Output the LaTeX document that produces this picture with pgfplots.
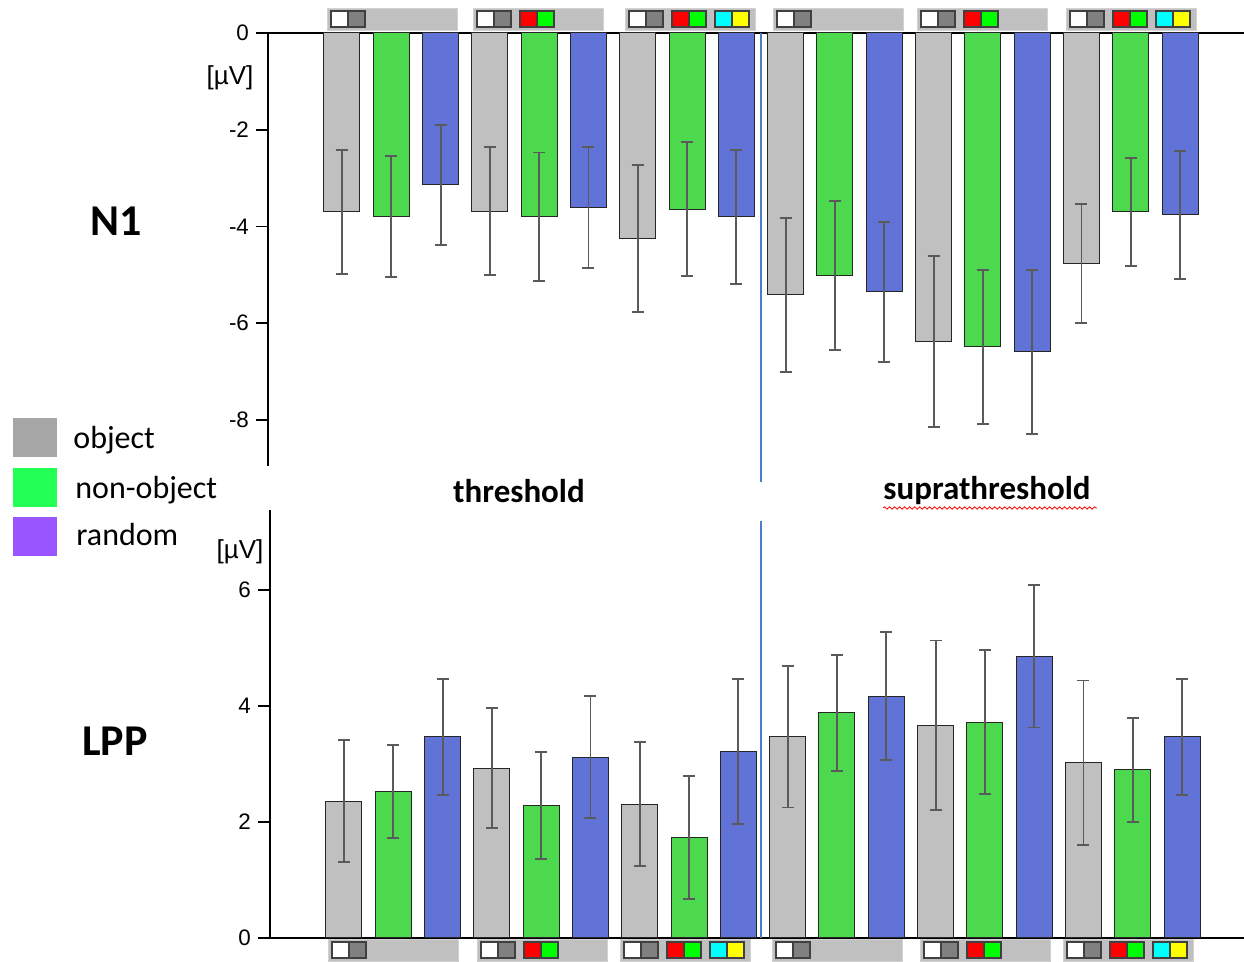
\documentclass[border=0pt]{standalone}
\usepackage{fontspec}
\setmainfont{Carlito}
\newfontfamily\arialf{Liberation Sans}
\usepackage{pgfplots}
\pgfplotsset{compat=1.18}
\usetikzlibrary{decorations.pathmorphing}

\definecolor{barGray}{HTML}{C0C0C0}
\definecolor{barGreen}{HTML}{4DD94D}
\definecolor{barBlue}{HTML}{6173D6}
\definecolor{errCol}{HTML}{5A5A5A}
\definecolor{legGray}{HTML}{A6A6A6}
\definecolor{legGreen}{HTML}{22FF55}
\definecolor{legPurple}{HTML}{9955FF}
\definecolor{sepBlue}{HTML}{4A7EC8}
\definecolor{stripGray}{HTML}{C0C0C0}
\definecolor{iconGray}{HTML}{808080}
\definecolor{iconCyan}{HTML}{00FFFF}
\definecolor{iconYellow}{HTML}{FFFF00}
\definecolor{iconGreen}{HTML}{00FF00}
\definecolor{iconRed}{HTML}{FF0000}

\pgfplotsset{
  erp/.style={
    x=24.65pt,
    xmin=-1.5, xmax=18.3,
    axis y line=left,
    xtick=\empty,
    tick align=outside,
    major tick length=6pt,
    ytick style={line width=0.9pt, black},
    yticklabel style={font=\arialf\fontsize{11.2}{13}\selectfont},
    clip=false,
  },
  erpbar/.style={ybar, bar width=18pt, bar shift=0pt, draw=black!85,
    line width=0.5pt, fill=#1,
    error bars/.cd, y dir=both, y explicit,
    error bar style={errCol, line width=0.95pt},
    error mark options={rotate=90, mark size=3pt, errCol, line width=0.95pt}},
}

% icon pair: x, y, left colour, right colour (pixel units)
\newcommand\iconpair[4]{%
  \fill[#3] (#1,#2) rectangle ++(17,16);
  \fill[#4] (#1+17,#2) rectangle ++(17,16);
  \draw[black!75, line width=0.9pt] (#1,#2) rectangle ++(34,16) (#1+17,#2) -- ++(0,16);
}
\newcommand\strip[3]{%
  \fill[stripGray, draw=gray!35] (#1,#2) rectangle ++(130,22);
  \iconpair{#1+4}{#2+3}{white}{iconGray}%
  \ifnum#3>1 \iconpair{#1+47}{#2+3}{iconRed}{iconGreen}\fi
  \ifnum#3>2 \iconpair{#1+90}{#2+3}{iconCyan}{iconYellow}\fi
}

\begin{document}
\begin{tikzpicture}
\path[use as bounding box] (0pt,0pt) rectangle (622pt,-481pt);

% N1
\begin{axis}[erp,
  at={(134pt,-16.5pt)}, anchor=north west,
  y=24.19pt, ymin=-8.95, ymax=0,
  axis x line=top,
  axis line style={-, line width=0.9pt, black},
  ytick={-8,-6,-4,-2,0}, yticklabels={-8,-6,-4,-2,0},
]
\addplot[erpbar=barGray] coordinates {
  (0,-3.70) +- (0,1.29) (3,-3.68) +- (0,1.32) (6,-4.24) +- (0,1.52)
  (9,-5.41) +- (0,1.59) (12,-6.38) +- (0,1.77) (15,-4.77) +- (0,1.23)
};
\addplot[erpbar=barGreen] coordinates {
  (1,-3.80) +- (0,1.25) (4,-3.80) +- (0,1.33) (7,-3.64) +- (0,1.39)
  (10,-5.02) +- (0,1.54) (13,-6.49) +- (0,1.60) (16,-3.70) +- (0,1.12)
};
\addplot[erpbar=barBlue] coordinates {
  (2,-3.14) +- (0,1.24) (5,-3.60) +- (0,1.25) (8,-3.80) +- (0,1.39)
  (11,-5.35) +- (0,1.45) (14,-6.59) +- (0,1.69) (17,-3.76) +- (0,1.32)
};
\end{axis}

% LPP
\begin{axis}[erp,
  at={(135pt,-469pt)}, anchor=south west,
  y=29pt, ymin=0, ymax=7.38,
  axis x line=bottom,
  axis line style={-, line width=0.9pt, black},
  ytick={0,2,4,6}, yticklabels={0,2,4,6},
]
\addplot[erpbar=barGray] coordinates {
  (0,2.36) +- (0,1.05) (3,2.93) +- (0,1.03) (6,2.31) +- (0,1.07)
  (9,3.47) +- (0,1.22) (12,3.67) +- (0,1.46) (15,3.02) +- (0,1.42)
};
\addplot[erpbar=barGreen] coordinates {
  (1,2.53) +- (0,0.80) (4,2.28) +- (0,0.92) (7,1.74) +- (0,1.06)
  (10,3.88) +- (0,1.00) (13,3.72) +- (0,1.24) (16,2.90) +- (0,0.90)
};
\addplot[erpbar=barBlue] coordinates {
  (2,3.47) +- (0,1.00) (5,3.12) +- (0,1.05) (8,3.22) +- (0,1.25)
  (11,4.17) +- (0,1.10) (14,4.86) +- (0,1.23) (17,3.47) +- (0,1.00)
};
\end{axis}

\begin{scope}[x=0.5pt, y=-0.5pt]
  % condition strips
  \strip{327}{8}{1} \strip{473}{8}{2} \strip{625}{8}{3}
  \strip{773}{8}{1} \strip{917}{8}{2} \strip{1066}{8}{3}
  \strip{328}{939}{1} \strip{477}{939}{2} \strip{620}{939}{3}
  \strip{772}{939}{1} \strip{920}{939}{2} \strip{1063}{939}{3}

  % threshold / suprathreshold separator
  \draw[sepBlue, line width=0.6pt] (761,33) -- (761,482) (761,521) -- (761,938);

  % labels
  \node[anchor=base, inner sep=0, font=\bfseries\fontsize{22}{26}\selectfont] at (116,236) {N1};
  \node[anchor=base, inner sep=0, font=\bfseries\fontsize{22}{26}\selectfont] at (115,756) {LPP};
  \node[anchor=base, inner sep=0, font=\bfseries\fontsize{16.5}{19}\selectfont] at (519,503) {threshold};
  \node[anchor=base, inner sep=0, font=\bfseries\fontsize{16.5}{19}\selectfont] at (987,500) {suprathreshold};
  \draw[red, line width=0.4pt, decorate, decoration={snake, amplitude=0.6pt, segment length=2.5pt}]
    (883,508) -- (1097,508);
  \node[inner sep=0, font=\arialf\fontsize{13}{15}\selectfont] at (230,78) {[µV]};
  \node[inner sep=0, font=\arialf\fontsize{13}{15}\selectfont] at (240,552) {[µV]};

  % legend
  \fill[legGray] (13,418) rectangle (57,457);
  \fill[legGreen] (13,468) rectangle (57,507);
  \fill[legPurple] (13,517) rectangle (57,556);
  \node[anchor=base west, inner sep=0, font=\fontsize{16}{19}\selectfont] at (73,449) {object};
  \node[anchor=base west, inner sep=0, font=\fontsize{16}{19}\selectfont] at (75,499) {non-object};
  \node[anchor=base west, inner sep=0, font=\fontsize{16}{19}\selectfont] at (76,546) {random};
\end{scope}
\end{tikzpicture}
\end{document}
